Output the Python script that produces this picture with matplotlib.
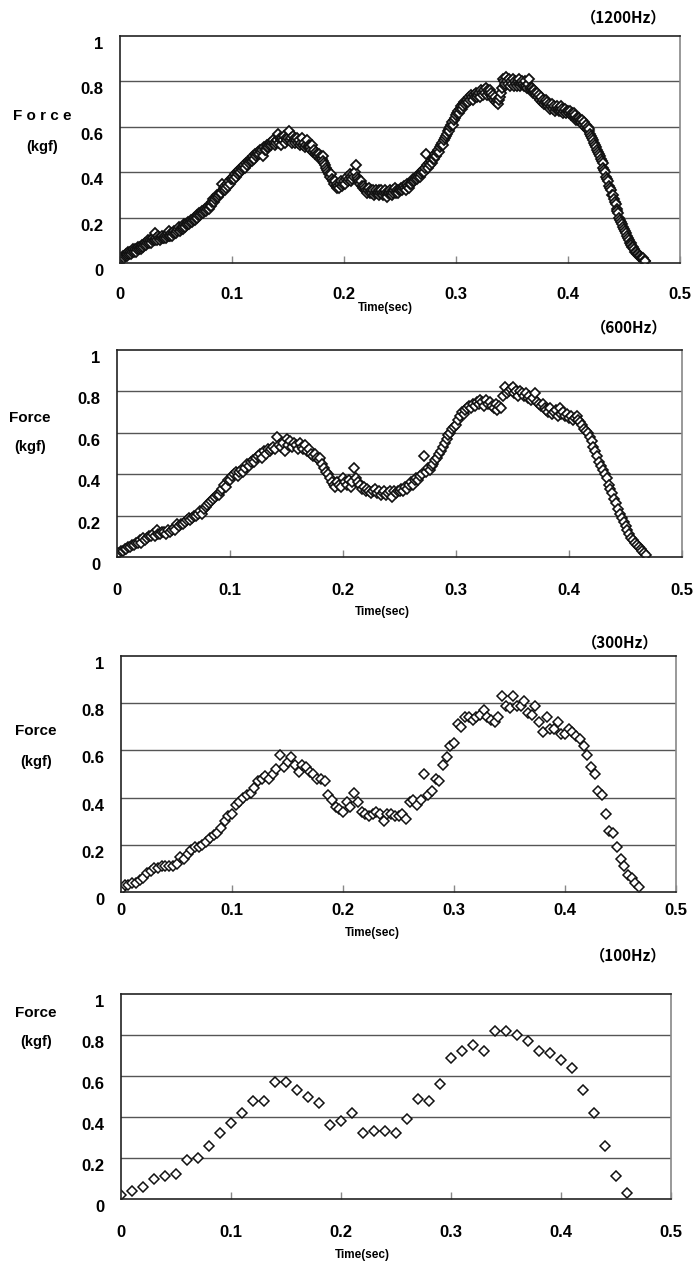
#1 importing libraries
import numpy as np
import matplotlib
matplotlib.use("Agg")
import matplotlib.pyplot as plt
import matplotlib.transforms as mtransforms

# 2 data (force in kgf, one row = 0.01 sec)
force_1200 = [
    0.01,0.02,0.02,0.03,0.02,0.03,0.04,0.03,0.04,0.05,0.04,0.05,
    0.04,0.05,0.06,0.05,0.06,0.05,0.06,0.07,0.06,0.07,0.06,0.07,
    0.08,0.07,0.08,0.09,0.08,0.09,0.10,0.09,0.10,0.09,0.10,0.11,
    0.10,0.13,0.10,0.11,0.10,0.12,0.11,0.10,0.11,0.12,0.11,0.11,
    0.12,0.11,0.12,0.13,0.12,0.14,0.12,0.13,0.12,0.13,0.14,0.13,
    0.13,0.14,0.15,0.16,0.14,0.15,0.16,0.15,0.16,0.17,0.16,0.17,
    0.17,0.18,0.17,0.18,0.19,0.18,0.19,0.20,0.19,0.20,0.21,0.20,
    0.21,0.22,0.21,0.22,0.23,0.22,0.23,0.24,0.23,0.24,0.25,0.24,
    0.25,0.26,0.25,0.27,0.28,0.27,0.28,0.29,0.30,0.29,0.30,0.31,
    0.31,0.35,0.32,0.33,0.32,0.34,0.33,0.35,0.34,0.36,0.35,0.37,
    0.37,0.38,0.37,0.39,0.38,0.40,0.39,0.40,0.41,0.40,0.42,0.41,
    0.42,0.43,0.42,0.44,0.43,0.45,0.44,0.45,0.46,0.45,0.46,0.47,
    0.46,0.48,0.47,0.48,0.49,0.48,0.50,0.49,0.50,0.47,0.51,0.50,
    0.50,0.51,0.52,0.51,0.52,0.53,0.52,0.53,0.54,0.53,0.52,0.53,
    0.54,0.57,0.53,0.55,0.54,0.52,0.55,0.54,0.56,0.53,0.55,0.54,
    0.55,0.58,0.54,0.55,0.53,0.56,0.54,0.55,0.53,0.54,0.55,0.53,
    0.54,0.52,0.53,0.55,0.52,0.53,0.51,0.52,0.54,0.51,0.52,0.51,
    0.51,0.50,0.52,0.49,0.50,0.48,0.49,0.48,0.47,0.48,0.46,0.47,
    0.46,0.47,0.45,0.44,0.43,0.42,0.41,0.40,0.39,0.38,0.39,0.37,
    0.36,0.35,0.36,0.34,0.33,0.35,0.34,0.33,0.35,0.36,0.34,0.35,
    0.36,0.35,0.37,0.38,0.36,0.37,0.39,0.36,0.38,0.37,0.39,0.38,
    0.40,0.43,0.38,0.37,0.36,0.35,0.36,0.34,0.33,0.34,0.32,0.33,
    0.32,0.31,0.32,0.33,0.31,0.32,0.31,0.32,0.30,0.31,0.32,0.31,
    0.31,0.32,0.30,0.31,0.32,0.31,0.30,0.31,0.32,0.31,0.29,0.31,
    0.31,0.32,0.31,0.30,0.32,0.31,0.32,0.33,0.31,0.32,0.31,0.32,
    0.32,0.33,0.32,0.33,0.34,0.33,0.32,0.34,0.35,0.34,0.33,0.35,
    0.35,0.36,0.37,0.36,0.37,0.38,0.37,0.38,0.39,0.38,0.40,0.39,
    0.40,0.41,0.40,0.42,0.48,0.43,0.42,0.44,0.43,0.45,0.44,0.46,
    0.46,0.47,0.48,0.47,0.49,0.50,0.49,0.51,0.52,0.53,0.52,0.54,
    0.55,0.56,0.57,0.58,0.59,0.58,0.60,0.61,0.62,0.61,0.63,0.64,
    0.65,0.66,0.67,0.66,0.68,0.69,0.68,0.70,0.69,0.71,0.70,0.71,
    0.72,0.71,0.73,0.72,0.74,0.73,0.72,0.74,0.73,0.75,0.74,0.73,
    0.74,0.75,0.73,0.76,0.75,0.74,0.76,0.75,0.77,0.74,0.76,0.75,
    0.76,0.74,0.75,0.73,0.74,0.72,0.73,0.71,0.72,0.70,0.72,0.73,
    0.75,0.77,0.81,0.80,0.78,0.79,0.82,0.80,0.79,0.81,0.78,0.80,
    0.79,0.81,0.78,0.80,0.79,0.78,0.80,0.79,0.81,0.78,0.79,0.80,
    0.79,0.78,0.80,0.78,0.77,0.79,0.81,0.77,0.76,0.77,0.75,0.76,
    0.76,0.75,0.74,0.75,0.73,0.74,0.72,0.73,0.71,0.72,0.70,0.71,
    0.72,0.70,0.71,0.69,0.70,0.68,0.69,0.70,0.68,0.69,0.67,0.68,
    0.69,0.68,0.67,0.68,0.69,0.67,0.68,0.66,0.67,0.68,0.66,0.67,
    0.67,0.66,0.67,0.65,0.66,0.65,0.66,0.64,0.65,0.63,0.64,0.63,
    0.64,0.63,0.62,0.63,0.61,0.62,0.60,0.61,0.59,0.60,0.58,0.59,
    0.57,0.56,0.55,0.54,0.53,0.52,0.51,0.50,0.49,0.48,0.47,0.46,
    0.45,0.44,0.42,0.41,0.40,0.38,0.37,0.36,0.34,0.33,0.32,0.30,
    0.30,0.28,0.27,0.26,0.24,0.23,0.22,0.20,0.19,0.18,0.17,0.16,
    0.15,0.14,0.13,0.12,0.11,0.10,0.09,0.09,0.08,0.07,0.07,0.06,
    0.05,0.05,0.04,0.04,0.03,0.03,0.02,0.02,0.02,0.01,0.01,0.01,
]

force_600 = [
    0.02,0.02,0.03,0.03,0.04,0.04, 0.05,0.05,0.06,0.06,0.07,0.07,
    0.08,0.07,0.09,0.08,0.09,0.10, 0.10,0.11,0.10,0.13,0.11,0.11,
    0.12,0.12,0.11,0.13,0.12,0.13, 0.14,0.13,0.16,0.15,0.16,0.16,
    0.17,0.18,0.19,0.18,0.19,0.20, 0.20,0.21,0.22,0.21,0.23,0.24,
    0.25,0.26,0.27,0.28,0.29,0.30, 0.30,0.32,0.33,0.35,0.34,0.37,
    0.37,0.39,0.40,0.41,0.39,0.41, 0.42,0.41,0.43,0.45,0.44,0.46,
    0.47,0.46,0.48,0.49,0.50,0.48, 0.51,0.50,0.52,0.51,0.52,0.53,
    0.52,0.58,0.54,0.53,0.55,0.51, 0.57,0.54,0.56,0.53,0.55,0.54,
    0.52,0.55,0.53,0.52,0.54,0.51, 0.52,0.50,0.49,0.50,0.48,0.47,
    0.48,0.45,0.43,0.41,0.40,0.38, 0.36,0.35,0.34,0.36,0.35,0.34,
    0.38,0.36,0.35,0.37,0.34,0.36, 0.43,0.38,0.36,0.35,0.33,0.34,
    0.32,0.33,0.32,0.31,0.32,0.33, 0.31,0.32,0.30,0.31,0.32,0.30,
    0.31,0.32,0.29,0.32,0.31,0.32, 0.32,0.33,0.32,0.34,0.33,0.35,
    0.36,0.35,0.37,0.38,0.37,0.39, 0.40,0.49,0.41,0.43,0.42,0.44,
    0.45,0.47,0.48,0.50,0.51,0.53, 0.55,0.57,0.59,0.60,0.62,0.63,
    0.64,0.66,0.68,0.70,0.69,0.71, 0.72,0.73,0.72,0.74,0.73,0.75,
    0.74,0.76,0.75,0.73,0.76,0.74, 0.75,0.73,0.72,0.74,0.71,0.73,
    0.72,0.78,0.82,0.79,0.80,0.81, 0.82,0.79,0.80,0.78,0.80,0.79,
    0.78,0.79,0.77,0.78,0.76,0.77, 0.79,0.75,0.74,0.73,0.74,0.72,
    0.71,0.70,0.72,0.69,0.70,0.71, 0.68,0.72,0.69,0.70,0.68,0.69,
    0.67,0.68,0.66,0.67,0.68,0.66, 0.65,0.64,0.62,0.61,0.60,0.58,
    0.56,0.53,0.51,0.49,0.46,0.44, 0.42,0.40,0.38,0.35,0.33,0.31,
    0.28,0.26,0.23,0.21,0.19,0.17, 0.15,0.13,0.11,0.09,0.08,0.07,
    0.06,0.05,0.04,0.03,0.02,0.01,
]

force_300 = [
    0.01,0.03,0.03, 0.04,0.04,0.05, 0.06,0.08,0.09, 0.10,0.10,0.11,
    0.11,0.11,0.11, 0.12,0.15,0.14, 0.16,0.18,0.19, 0.19,0.20,0.21,
    0.23,0.24,0.25, 0.27,0.30,0.32, 0.33,0.37,0.38, 0.40,0.41,0.42,
    0.44,0.47,0.48, 0.49,0.48,0.50, 0.52,0.58,0.53, 0.55,0.57,0.54,
    0.51,0.54,0.53, 0.51,0.50,0.48, 0.48,0.47,0.41, 0.39,0.36,0.35,
    0.34,0.38,0.36, 0.42,0.38,0.34, 0.33,0.32,0.33, 0.34,0.33,0.30,
    0.33,0.33,0.32, 0.32,0.33,0.31, 0.38,0.39,0.37, 0.39,0.50,0.41,
    0.43,0.48,0.47, 0.54,0.57,0.62, 0.63,0.71,0.70, 0.74,0.74,0.73,
    0.74,0.75,0.77, 0.74,0.73,0.72, 0.74,0.83,0.79, 0.78,0.83,0.79,
    0.79,0.81,0.76, 0.75,0.79,0.72, 0.68,0.74,0.69, 0.69,0.72,0.67,
    0.67,0.69,0.68, 0.66,0.65,0.62, 0.58,0.53,0.50, 0.43,0.41,0.33,
    0.26,0.25,0.19, 0.14,0.11,0.07, 0.06,0.04,0.02,
]

force_100 = [
    0.02,0.04,0.06,0.10,0.11,0.12,0.19,0.20,0.26,0.32,
    0.37,0.42,0.48,0.48,0.57,0.57,0.53,0.50,0.47,0.36,
    0.38,0.42,0.32,0.33,0.33,0.32,0.39,0.49,0.48,0.56,
    0.69,0.72,0.75,0.72,0.82,0.82,0.80,0.77,0.72,0.71,
    0.68,0.64,0.53,0.42,0.26,0.11,0.03,
]

rates = [1200, 600, 300, 100]
series = [force_1200, force_600, force_300, force_100]
hz_labels = ["（1200Hz）", "（600Hz）", "（300Hz）", "（100Hz）"]
x_ticks = [0, 0.1, 0.2, 0.3, 0.4, 0.5]
x_ticklabels = ["0", "0.1", "0.2", "0.3", "0.4", "0.5"]
y_ticks = [0, 0.2, 0.4, 0.6, 0.8, 1]
y_ticklabels = ["0", "0.2", "0.4", "0.6", "0.8", "1"]

# 3 layout in pixels of the scanned page
W, H = 694, 1267
# left, right, top, bottom of each plot box
boxes = [(120, 680, 36, 263), (117, 682, 350, 557), (121, 676, 656, 892), (121, 671, 994, 1199)]
xpads = [17, 19, 8, 19]
hz_pos = [(624, 17), (629, 327), (620, 642), (628, 955)]
time_pos = [(385, 308), (382, 612), (372, 933), (362, 1255)]
force_pos = [(42, 116, 147), (30, 418, 447), (36, 731, 762), (36, 1013, 1042)]
msizes = [4.8, 4.8, 5.0, 5.2]
medges = [1.3, 1.2, 1.1, 1.1]

plt.rcParams["font.family"] = ["Liberation Sans", "DejaVu Sans"]
cjk = ["Noto Sans CJK JP", "DejaVu Sans"]

fig = plt.figure(figsize=(W / 100, H / 100), dpi=100)
fig.patch.set_facecolor("white")

def fx(x):
    return x / W

def fy(y):
    return 1 - y / H

for i in range(4):
    l, r, t, b = boxes[i]
    ax = fig.add_axes([fx(l), fy(b), (r - l) / W, (b - t) / H])
    vals = np.array(series[i])
    tt = np.arange(len(vals)) / rates[i]
    ax.plot(tt, vals, linestyle="none", marker="D", markersize=msizes[i],
            markerfacecolor="white", markeredgecolor="#111111", markeredgewidth=medges[i])
    ax.set_xlim(0, 0.5)
    ax.set_ylim(0, 1)
    # horizontal grid lines
    for g in [0.2, 0.4, 0.6, 0.8]:
        ax.axhline(g, color="#555555", linewidth=1.0, zorder=0)
    ax.set_xticks(x_ticks)
    ax.set_xticklabels(x_ticklabels, fontsize=12, fontweight="bold")
    ax.set_yticks(y_ticks)
    ax.set_yticklabels(y_ticklabels, fontsize=12, fontweight="bold")
    ax.tick_params(axis="x", direction="in", length=5, width=1, color="#888888", pad=xpads[i])
    ax.tick_params(axis="y", length=0, pad=12)
    # the scanned y labels sit a little below their grid lines
    shift = mtransforms.ScaledTranslation(0, -7 / 100, fig.dpi_scale_trans)
    for lab in ax.get_yticklabels():
        lab.set_transform(lab.get_transform() + shift)
    for side in ["left", "bottom", "top"]:
        ax.spines[side].set_color("#222222")
        ax.spines[side].set_linewidth(1.2)
    ax.spines["right"].set_color("#888888")
    ax.spines["right"].set_linewidth(1.2)

    fig.text(fx(hz_pos[i][0]), fy(hz_pos[i][1]), hz_labels[i], ha="center", va="center",
             fontsize=11, fontweight="bold", family=cjk)
    fig.text(fx(time_pos[i][0]), fy(time_pos[i][1]), "Time(sec)", ha="center", va="center",
             fontsize=8.5, fontweight="bold")
    flabel = "F o r c e" if i == 0 else "Force"
    fig.text(fx(force_pos[i][0]), fy(force_pos[i][1]), flabel, ha="center", va="center",
             fontsize=11, fontweight="bold")
    fig.text(fx(force_pos[i][0]), fy(force_pos[i][2]), "(kgf)", ha="center", va="center",
             fontsize=10.5, fontweight="bold")

fig.savefig("out.png", dpi=100, facecolor="white")
